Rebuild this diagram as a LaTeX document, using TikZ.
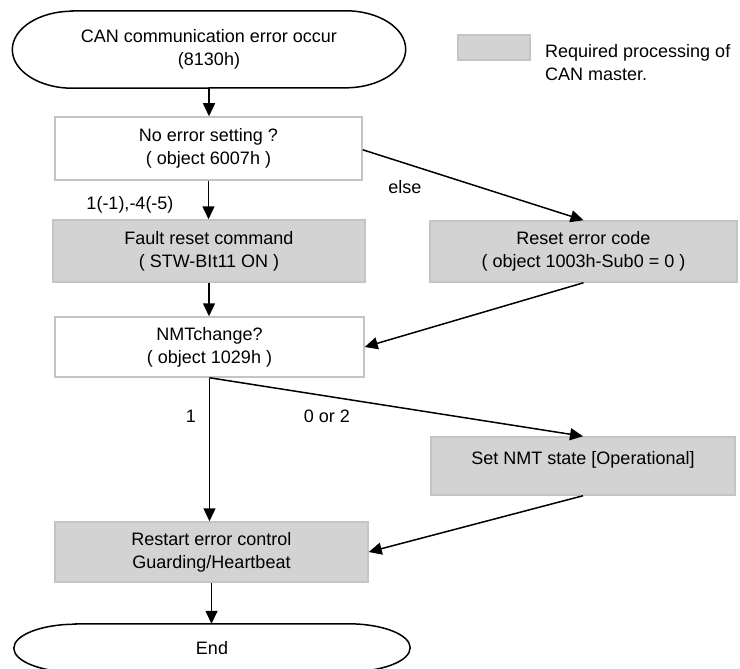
\documentclass[tikz,border=0pt]{standalone}
\usepackage{fontspec}
\setmainfont{Liberation Sans}
\usetikzlibrary{arrows.meta,calc}
\definecolor{boxfill}{HTML}{D3D3D3}
\definecolor{boxline}{HTML}{C4C4C4}
\tikzset{
  txt/.style={font=\fontsize{18}{23}\selectfont, align=center, inner sep=0pt},
  plainbox/.style={txt, draw=boxline, line width=1.5pt, fill=white, rectangle},
  graybox/.style={txt, draw=boxline, line width=1.5pt, fill=boxfill, rectangle},
  term/.style={txt, rectangle},
  termline/.style={draw=black, line width=1.5pt},
  arr/.style={draw=black, line width=1.5pt, -{Triangle[length=13pt,width=12pt]}},
  lbl/.style={font=\fontsize{18}{23}\selectfont, inner sep=0pt}
}
% terminator outline with elliptical ends: #1 node name, #2 x radius (pt), #3 y radius (pt)
\newcommand{\myterm}[3]{%
  \draw[termline] ($(#1.north west)+(#2,0)$) -- ($(#1.north east)+(-#2,0)$)
    arc[start angle=90,end angle=-90,x radius=#2pt,y radius=#3pt]
    -- ($(#1.south west)+(#2,0)$)
    arc[start angle=270,end angle=90,x radius=#2pt,y radius=#3pt] -- cycle;}
\begin{document}
\begin{tikzpicture}[x=1pt,y=-1pt]
\useasboundingbox (0,0) rectangle (740,669);
% nodes
\node[term, minimum width=393pt, minimum height=77pt] (start) at (209,49.5) {CAN communication error occur\\(8130h)};
\myterm{start}{60}{38.5}
\node[plainbox, minimum width=307pt, minimum height=63pt] (box1) at (208.5,148.5) {No error setting ?\\( object 6007h )};
\node[graybox, minimum width=312pt, minimum height=62pt] (fault) at (209,251) {Fault reset command\\( STW-BIt11 ON )};
\node[graybox, minimum width=307pt, minimum height=61pt] (reset) at (583.5,251.5) {Reset error code\\( object 1003h-Sub0 = 0 )};
\node[plainbox, minimum width=309pt, minimum height=60pt] (nmt) at (209.5,347) {NMTchange?\\( object 1029h )};
\node[graybox, minimum width=304pt, minimum height=58pt] (setnmt) at (583,466) {};
\node[lbl] (setnmttxt) at ([yshift=6pt]setnmt.center) {Set NMT state [Operational]};
\node[graybox, minimum width=313pt, minimum height=60pt] (restart) at (211.5,552) {Restart error control\\Guarding/Heartbeat};
\node[term, minimum width=396pt, minimum height=48pt] (endn) at (212,648) {End};
\myterm{endn}{62}{24}
% legend
\node[graybox, minimum width=72pt, minimum height=25pt] (legend) at (494,47.5) {};
\node[lbl, anchor=west, align=left, font=\fontsize{18}{23}\selectfont] (legendtxt) at (545,63) {Required processing of\\CAN master.};
% connectors
\draw[arr] (start.south) -- (start.south |- box1.north);
\draw[arr] (box1.south) -- (box1.south |- fault.north);
\draw[arr] ($(box1.north east)!0.52!(box1.south east)$) -- (reset.north);
\draw[arr] (fault.south) -- (fault.south |- nmt.north);
\draw[arr] (reset.south) -- (nmt.east);
\draw[arr] (nmt.south) -- (nmt.south |- restart.north);
\draw[arr] (nmt.south) -- (setnmt.north);
\draw[arr] (setnmt.south) -- (restart.east);
\draw[arr] (restart.south) -- (restart.south |- endn.north);
% labels
\node[lbl] (l1) at (130,205) {1(-1),-4(-5)};
\node[lbl] (lelse) at (405,187) {else};
\node[lbl] (lone) at (191,416) {1};
\node[lbl] (ltwo) at (327,416) {0 or 2};
\end{tikzpicture}
\end{document}
